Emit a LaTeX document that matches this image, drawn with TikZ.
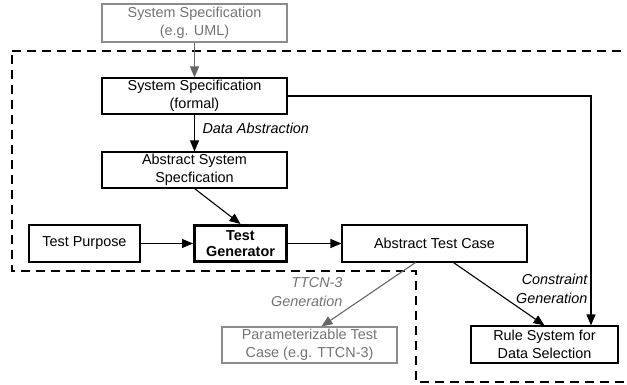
\documentclass[tikz,border=0pt]{standalone}
\usepackage{fontspec}
\setmainfont{Liberation Sans}
\usetikzlibrary{arrows.meta}

\begin{document}
\begin{tikzpicture}[x=1pt,y=-1pt,line width=1.1pt,>={Triangle[length=11pt,width=9pt]},
  box/.style={draw,align=center,inner sep=0pt,font=\fontsize{14.4}{18.5}\selectfont},
  greybox/.style={box,draw=black!45,text=black!55},
  lbl/.style={font=\fontsize{14.4}{18.5}\selectfont\itshape,inner sep=0pt}]
  \useasboundingbox (0,0) rectangle (627,385);
  \clip (0,0) rectangle (627,385);
  % bereich des werkzeugs
  \draw[dashed,dash pattern=on 9pt off 6pt,line width=1.2pt]
    (12,51) -- (640,51) -- (640,382) -- (416,382) -- (416,271) -- (12,271) -- cycle;
  % kaesten
  \node[greybox,minimum width=185pt,minimum height=38pt] (uml) at (194.5,23)
    {System Specification\\(e.g. UML)};
  \node[box,minimum width=185pt,minimum height=36pt] (formal) at (194.5,96)
    {System Specification\\(formal)};
  \node[box,minimum width=185pt,minimum height=36pt] (abs) at (194.5,170)
    {Abstract System\\Specfication};
  \node[box,minimum width=111pt,minimum height=37pt] (purpose) at (84.5,243.5)
    {Test Purpose};
  \node[box,line width=3pt,minimum width=92pt,minimum height=36pt,font=\fontsize{14.4}{16}\selectfont\bfseries] (gen) at (240.5,243.5)
    {Test\\Generator};
  \node[box,minimum width=185pt,minimum height=37pt] (atc) at (434.5,243.5)
    {Abstract Test Case};
  \node[greybox,minimum width=175pt,minimum height=36pt] (param) at (309.5,345)
    {Parameterizable Test\\Case (e.g. TTCN-3)};
  \node[box,minimum width=147pt,minimum height=37pt] (rule) at (544.5,344.5)
    {Rule System for\\Data Selection};
  % pfeile
  \draw[->,black!60] (uml) -- (formal);
  \draw[->] (formal) -- (abs);
  \node[lbl,anchor=west] (da) at (202,128) {Data Abstraction};
  \draw[->] (abs.south) -- (gen.north);
  \draw[->] (purpose) -- (gen);
  \draw[->] (gen) -- (atc);
  \draw[->] (formal.east) -| ([xshift=46.5pt]rule.north);
  \draw[->,black!60] ([xshift=-19pt]atc.south) -- ([xshift=12pt]param.north);
  \node[lbl,anchor=east,align=right,text=black!55] (ttcn) at (343,292) {TTCN-3\\Generation};
  \draw[->] ([xshift=19pt]atc.south) -- (rule.north);
  \node[lbl,anchor=east,align=right] (cg) at (588,289) {Constraint\\Generation};
\end{tikzpicture}
\end{document}
